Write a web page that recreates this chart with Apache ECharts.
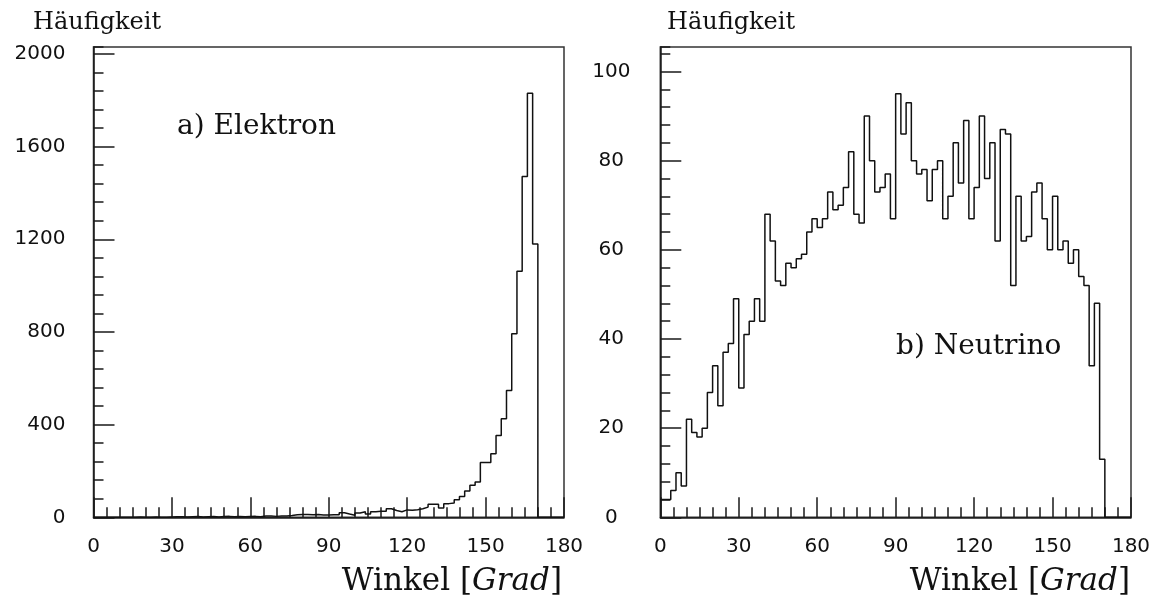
<!DOCTYPE html>
<html>
<head>
<meta charset="utf-8">
<script src="https://cdn.jsdelivr.net/npm/echarts@6/dist/echarts.min.js"></script>
<style>
  html, body { margin: 0; padding: 0; background: #fff; }
  #chart { width: 1159px; height: 607px; }
</style>
</head>
<body>
<div id="chart"></div>
<script>
// ---- data (2-degree bins, 0..180 degrees) ----
const binStart = 0;
const binWidth = 2;

// a) Elektron: counts per 2° bin
const electronCounts = [
  0, 0, 0, 0, 0, 0, 0, 0, 1, 0,
  0, 1, 0, 0, 1, 2, 2, 1, 2, 3,
  1, 2, 3, 1, 3, 4, 2, 3, 2, 3,
  4, 2, 6, 6, 4, 6, 6, 8, 11, 12,
  12, 11, 12, 10, 10, 11, 11, 20, 14, 9,
  19, 24, 14, 24, 26, 26, 37, 29, 24, 32,
  30, 33, 37, 44, 56, 56, 40, 59, 62, 76,
  90, 113, 138, 152, 236, 236, 274, 353, 425, 547,
  792, 1062, 1471, 1830, 1180, 0, 0, 0, 0, 0
];

// b) Neutrino: counts per 2° bin
const neutrinoCounts = [
  4, 4, 6, 10, 7, 22, 19, 18, 20, 28,
  34, 25, 37, 39, 49, 29, 41, 44, 49, 44,
  68, 62, 53, 52, 57, 56, 58, 59, 64, 67,
  65, 67, 73, 69, 70, 74, 82, 68, 66, 90,
  80, 73, 74, 77, 67, 95, 86, 93, 80, 77,
  78, 71, 78, 80, 67, 72, 84, 75, 89, 67,
  74, 90, 76, 84, 62, 87, 86, 52, 72, 62,
  63, 73, 75, 67, 60, 72, 60, 62, 57, 60,
  54, 52, 34, 48, 13, 0, 0, 0, 0, 0
];

// axis ranges / tick spacing
const xRange = [0, 180];
const xMajor = 30;
const xMinorSplit = 6;
const yRangeE = [0, 2030];
const yMajorE = 400;
const yMinorE = 80;
const yRangeN = [0, 105.5];
const yMajorN = 20;
const yMinorN = 4;

// texts
const yTitle = 'Häufigkeit';
const labelE = 'a) Elektron';
const labelN = 'b) Neutrino';

// ---- build step outlines from the bins ----
function histPoints(counts) {
  const pts = counts.map((c, i) => [binStart + i * binWidth, c]);
  pts.push([binStart + counts.length * binWidth, counts[counts.length - 1]]);
  return pts;
}

const tickColor = '#1a1a1a';
const labelFont = { fontFamily: '"DejaVu Sans", sans-serif', fontSize: 20, color: '#111' };

function xAxisDef(gridIndex) {
  return {
    type: 'value', gridIndex, min: xRange[0], max: xRange[1], interval: xMajor,
    axisLine: { show: true, onZero: false, lineStyle: { color: tickColor, width: 1.5 } },
    axisTick: { show: true, inside: true, length: 20, lineStyle: { color: tickColor, width: 1.5 } },
    minorTick: { show: true, splitNumber: xMinorSplit, length: 10, lineStyle: { color: tickColor, width: 1.5 } },
    axisLabel: Object.assign({ margin: 19 }, labelFont),
    splitLine: { show: false }
  };
}
function yAxisMain(gridIndex, range, major, margin, align) {
  return {
    type: 'value', gridIndex, position: 'left', min: range[0], max: range[1], interval: major,
    axisLine: { show: true, lineStyle: { color: tickColor, width: 1.5 } },
    axisTick: { show: true, inside: true, length: 21, lineStyle: { color: tickColor, width: 1.5 } },
    axisLabel: Object.assign({
      margin,
      align,
      showMaxLabel: false,
      formatter: v => (Math.abs(v % major) < 1e-9 ? String(v) : '')
    }, labelFont),
    splitLine: { show: false }
  };
}
function yAxisMinor(gridIndex, range, minor) {
  return {
    type: 'value', gridIndex, position: 'left', min: range[0], max: range[1], interval: minor,
    axisLine: { show: false },
    axisTick: { show: true, inside: true, length: 10, lineStyle: { color: tickColor, width: 1.5 } },
    axisLabel: { show: false },
    splitLine: { show: false }
  };
}

const serif = '"DejaVu Serif", "Liberation Serif", serif';
const xNameRich = {
  r: { font: '31px ' + serif, fill: '#111' },
  i: { font: 'italic 31px ' + serif, fill: '#111' }
};

const option = {
  animation: false,
  backgroundColor: '#fff',
  grid: [
    { left: 93.5, top: 47, width: 470.5, height: 470.3, show: true, borderColor: '#333', borderWidth: 1.5, backgroundColor: 'transparent' },
    { left: 660.3, top: 47, width: 470.7, height: 470.3, show: true, borderColor: '#333', borderWidth: 1.5, backgroundColor: 'transparent' }
  ],
  xAxis: [xAxisDef(0), xAxisDef(1)],
  yAxis: [
    yAxisMain(0, yRangeE, yMajorE, 28, 'right'),
    yAxisMinor(0, yRangeE, yMinorE),
    yAxisMain(1, yRangeN, yMajorN, 49, 'center'),
    yAxisMinor(1, yRangeN, yMinorN)
  ],
  series: [
    {
      type: 'line', xAxisIndex: 0, yAxisIndex: 0, step: 'end', symbol: 'none',
      data: histPoints(electronCounts),
      lineStyle: { color: '#111', width: 1.5 }
    },
    {
      type: 'line', xAxisIndex: 1, yAxisIndex: 2, step: 'end', symbol: 'none',
      data: histPoints(neutrinoCounts),
      lineStyle: { color: '#111', width: 1.5 }
    }
  ],
  graphic: [
    { type: 'text', left: 33, top: 11, style: { text: yTitle, font: '24px ' + serif, fill: '#111' } },
    { type: 'text', left: 667, top: 11, style: { text: yTitle, font: '24px ' + serif, fill: '#111' } },
    { type: 'text', left: 177, top: 113, style: { text: labelE, font: '28px ' + serif, fill: '#111' } },
    { type: 'text', left: 896, top: 333, style: { text: labelN, font: '28px ' + serif, fill: '#111' } },
    {
      type: 'text', right: 1159 - 562, top: 566,
      style: { text: '{r|Winkel [}{i|Grad}{r|]}', rich: xNameRich }
    },
    {
      type: 'text', right: 1159 - 1130, top: 566,
      style: { text: '{r|Winkel [}{i|Grad}{r|]}', rich: xNameRich }
    }
  ]
};

const chart = echarts.init(document.getElementById('chart'), null, { renderer: 'canvas' });
chart.setOption(option);
</script>
</body>
</html>
